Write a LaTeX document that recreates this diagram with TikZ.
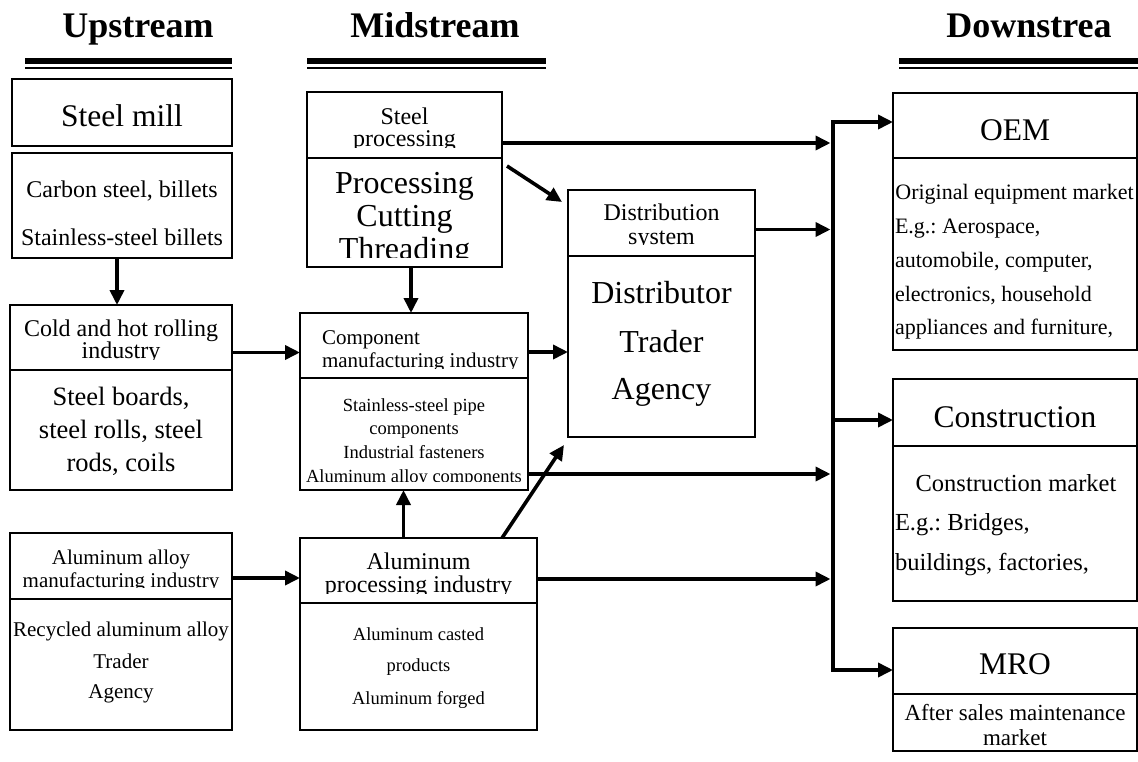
\documentclass[tikz,border=0pt]{standalone}
\usepackage{fontspec}
\setmainfont{Liberation Serif}
\usetikzlibrary{arrows.meta}
\begin{document}
\frenchspacing
\begin{tikzpicture}[x=1pt,y=-1pt,
  cell/.style={draw, line width=1.5pt, inner sep=0pt, outer sep=0pt, anchor=north west},
  tx/.style={inner sep=0pt, outer sep=0pt, anchor=base},
  txl/.style={inner sep=0pt, outer sep=0pt, anchor=base west},
  conn/.style={line width=3.6pt, -{Triangle[length=15pt,width=14pt]}},
  tobus/.style={conn, shorten >=2.5pt},
  thickrule/.style={line width=6pt},
  thinrule/.style={line width=1.5pt},
  fH/.style={font=\fontsize{36}{36}\selectfont\bfseries},
  fbig/.style={font=\fontsize{31.5}{31.5}\selectfont},
  fxl/.style={font=\fontsize{32}{32}\selectfont},
  fmd/.style={font=\fontsize{24}{24}\selectfont},
  fml/.style={font=\fontsize{26.5}{26.5}\selectfont},
  fsm/.style={font=\fontsize{21}{21}\selectfont},
  fxs/.style={font=\fontsize{18.5}{18.5}\selectfont},
  foem/.style={font=\fontsize{22}{22}\selectfont},
  fcon/.style={font=\fontsize{24.5}{24.5}\selectfont},
  fmro/.style={font=\fontsize{23}{23}\selectfont}
]
\useasboundingbox (0,0) rectangle (1138,761);

% ---------- headers ----------
\node[tx,fH] (hup) at (138,37) {Upstream};
\node[tx,fH] (hmid) at (435,37) {Midstream};
\node[tx,fH] (hdown) at (1029,37) {Downstrea};
\draw[thickrule] (25,61) -- (232,61);
\draw[thinrule] (25,68) -- (232,68);
\draw[thickrule] (307,61) -- (546,61);
\draw[thinrule] (307,68) -- (546,68);
\draw[thickrule] (899,61) -- (1138,61);
\draw[thinrule] (899,68) -- (1138,68);

% ---------- boxes ----------
\node[cell, minimum width=220pt, minimum height=67pt] (mill) at (12,79) {};
\node[cell, minimum width=220pt, minimum height=105pt] (bill) at (12,153) {};
\node[cell, minimum width=222pt, minimum height=65pt] (rollh) at (10,305) {};
\node[cell, minimum width=222pt, minimum height=120pt] (rollb) at (10,370) {};
\node[cell, minimum width=222pt, minimum height=66pt] (alh) at (10,533) {};
\node[cell, minimum width=222pt, minimum height=131pt] (alb) at (10,599) {};

\node[cell, minimum width=195pt, minimum height=66pt] (sph) at (307,92) {};
\node[cell, minimum width=195pt, minimum height=109pt] (spb) at (307,158) {};
\node[cell, minimum width=228pt, minimum height=65pt] (comph) at (300,313) {};
\node[cell, minimum width=228pt, minimum height=112pt] (compb) at (300,378) {};
\node[cell, minimum width=237pt, minimum height=65pt] (alph) at (300,538) {};
\node[cell, minimum width=237pt, minimum height=127pt] (alpb) at (300,603) {};

\node[cell, minimum width=187pt, minimum height=66pt] (disth) at (568,190) {};
\node[cell, minimum width=187pt, minimum height=181pt] (distb) at (568,256) {};

\node[cell, minimum width=244pt, minimum height=65pt] (oemh) at (893,93) {};
\node[cell, minimum width=244pt, minimum height=192pt] (oemb) at (893,158) {};
\node[cell, minimum width=244pt, minimum height=67pt] (conh) at (893,379) {};
\node[cell, minimum width=244pt, minimum height=155pt] (conb) at (893,446) {};
\node[cell, minimum width=244pt, minimum height=66pt] (mroh) at (893,628) {};
\node[cell, minimum width=244pt, minimum height=57pt] (mrob) at (893,694) {};

% ---------- texts: upstream ----------
\node[tx,fbig] (tmill) at (122,126) {Steel mill};
\node[tx,fmd] (tbill1) at (122,197) {Carbon steel, billets};
\node[tx,fmd] (tbill2) at (122,245) {Stainless-steel billets};
\begin{scope}
\clip (10,305) rectangle (232,359);
\node[tx,fmd] (troll1) at (121,336) {Cold and hot rolling};
\node[tx,fmd] (troll2) at (121,358) {industry};
\end{scope}
\node[tx,fml] (trb1) at (121,405) {Steel boards,};
\node[tx,fml] (trb2) at (121,438) {steel rolls, steel};
\node[tx,fml] (trb3) at (121,471) {rods, coils};
\begin{scope}
\clip (10,533) rectangle (232,587);
\node[tx,fsm] (tal1) at (121,564) {Aluminum alloy};
\node[tx,fsm] (tal2) at (121,587) {manufacturing industry};
\end{scope}
\node[tx,fsm] (talb1) at (121,636) {Recycled aluminum alloy};
\node[tx,fsm] (talb2) at (121,668) {Trader};
\node[tx,fsm] (talb3) at (121,698) {Agency};

% ---------- texts: midstream ----------
\begin{scope}
\clip (307,92) rectangle (502,147);
\node[tx,fmd] (tsp1) at (404.5,124) {Steel};
\node[tx,fmd] (tsp2) at (404.5,146) {processing};
\end{scope}
\begin{scope}
\clip (307,158) rectangle (502,257);
\node[tx,fxl] (tspb1) at (404.5,193) {Processing};
\node[tx,fxl] (tspb2) at (404.5,226) {Cutting};
\node[tx,fxl] (tspb3) at (404.5,259) {Threading};
\end{scope}
\begin{scope}
\clip (300,313) rectangle (528,368);
\node[txl,fsm] (tcp1) at (322,344) {Component};
\node[txl,fsm] (tcp2) at (322,367) {manufacturing industry};
\end{scope}
\begin{scope}
\clip (300,378) rectangle (528,481);
\node[tx,fxs] (tcb1) at (414,411) {Stainless-steel pipe};
\node[tx,fxs] (tcb2) at (414,434) {components};
\node[tx,fxs] (tcb3) at (414,458) {Industrial fasteners};
\node[tx,fxs] (tcb4) at (414,482) {Aluminum alloy components};
\end{scope}
\begin{scope}
\clip (300,538) rectangle (537,593);
\node[tx,fmd] (tap1) at (418.5,569) {Aluminum};
\node[tx,fmd] (tap2) at (418.5,592) {processing industry};
\end{scope}
\node[tx,fxs] (tapb1) at (418.5,640) {Aluminum casted};
\node[tx,fxs] (tapb2) at (418.5,671) {products};
\node[tx,fxs] (tapb3) at (418.5,704) {Aluminum forged};

\begin{scope}
\clip (568,190) rectangle (755,244);
\node[tx,fmd] (tds1) at (661.5,220) {Distribution};
\node[tx,fmd] (tds2) at (661.5,244) {system};
\end{scope}
\node[tx,fxl] (tdb1) at (661.5,303) {Distributor};
\node[tx,fxl] (tdb2) at (661.5,352) {Trader};
\node[tx,fxl] (tdb3) at (661.5,399) {Agency};

% ---------- texts: downstream ----------
\node[tx,fbig] (toem) at (1015,140) {OEM};
\node[tx,foem] (toe1) at (1014.5,199) {Original equipment market};
\node[txl,foem] (toe2) at (895,233) {E.g.: Aerospace,};
\node[txl,foem] (toe3) at (895,267) {automobile, computer,};
\node[txl,foem] (toe4) at (895,301) {electronics, household};
\node[txl,foem] (toe5) at (895,334) {appliances and furniture,};
\node[tx,fbig] (tcon) at (1015,427) {Construction};
\node[tx,fcon] (tco1) at (1016,491) {Construction market};
\node[txl,fcon] (tco2) at (895,530) {E.g.: Bridges,};
\node[txl,fcon] (tco3) at (895,570) {buildings, factories,};
\node[tx,fbig] (tmro) at (1015,674) {MRO};
\node[tx,fmro] (tmr1) at (1015,720) {After sales maintenance};
\node[tx,fmro] (tmr2) at (1015,745.5) {market};

% ---------- connectors ----------
\draw[conn] ([xshift=-5pt]bill.south) -- ([xshift=-5pt]bill.south |- rollh.north);
\coordinate (c2) at ([yshift=-15pt]rollh.east);
\draw[conn] (c2) -- (c2 -| comph.west);
\coordinate (c3) at ([yshift=-12pt]alh.east);
\draw[conn] (c3) -- (c3 -| alph.west);
\draw[conn] ([xshift=6.5pt]spb.south) -- ([xshift=6.5pt]spb.south |- comph.north);
\draw[conn] ([xshift=-15pt]alph.north) -- ([xshift=-15pt]alph.north |- compb.south);
\draw[conn] ([xshift=-35pt]alph.north east) -- ([shift={(-4pt,-8pt)}]distb.south west);
\draw[conn] ([shift={(5pt,-8pt)}]sph.south east) -- ([shift={(-6pt,-12pt)}]disth.north west);
\coordinate (c10) at ([yshift=-6.5pt]comph.east);
\draw[conn] (c10) -- (c10 -| distb.west);

\coordinate (bustop) at (833,122);
\coordinate (buscon) at (833,420);
\coordinate (busbot) at (833,670);
\coordinate (b1) at ([yshift=-18pt]sph.east);
\coordinate (b2) at ([yshift=-6.5pt]disth.east);
\coordinate (b3) at ([yshift=-40pt]compb.east);
\coordinate (b4) at ([yshift=-8.5pt]alph.east);
\draw[tobus] (b1) -- (b1 -| bustop);
\draw[tobus] (b2) -- (b2 -| bustop);
\draw[tobus] (b3) -- (b3 -| bustop);
\draw[tobus] (b4) -- (b4 -| bustop);
\draw[conn, line join=miter] (busbot) -- (bustop) -- (bustop -| oemh.west);
\draw[conn, line join=miter] (bustop) -- (busbot) -- (busbot -| mroh.west);
\draw[conn] (buscon) -- (buscon -| conh.west);
\end{tikzpicture}
\end{document}
